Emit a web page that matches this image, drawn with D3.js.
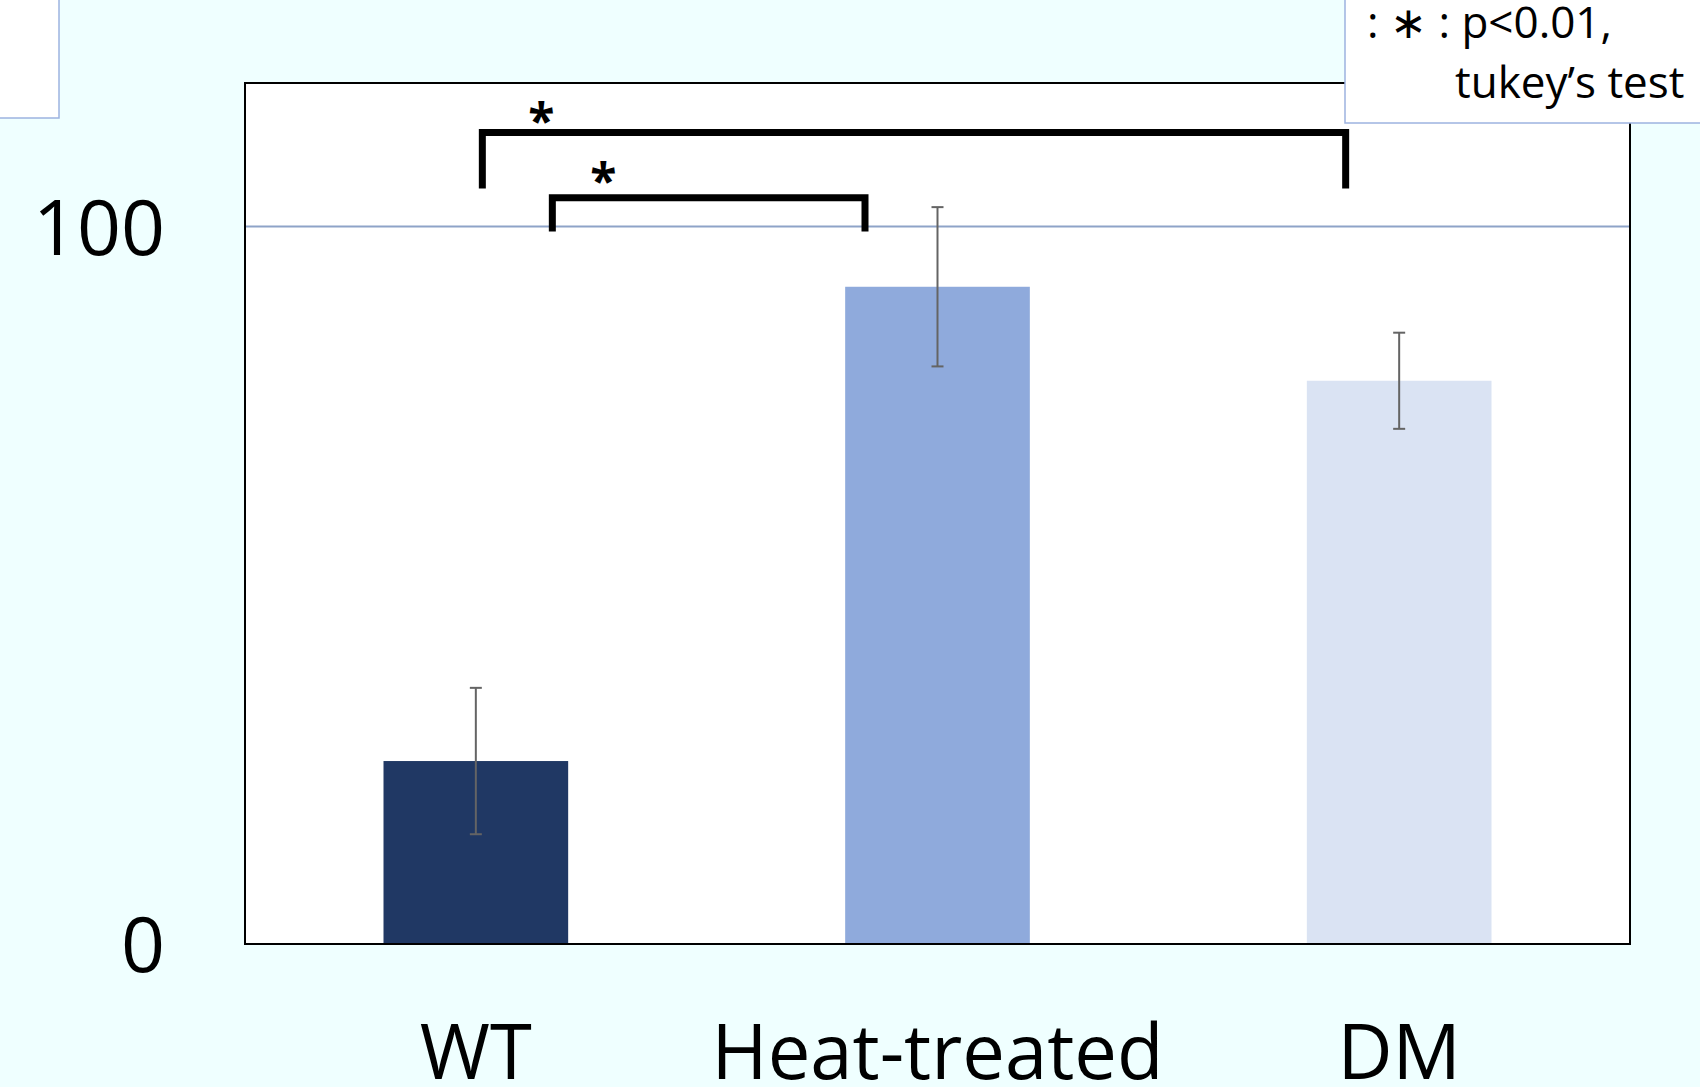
<!DOCTYPE html>
<html>
<head>
<meta charset="utf-8">
<script src="https://cdn.jsdelivr.net/npm/d3@7"></script>
<style>
  html, body { margin: 0; padding: 0; background: #EFFFFF; overflow: hidden; }
  svg { display: block; font-family: "Open Sans", "Noto Sans", sans-serif; }
</style>
</head>
<body>
<svg id="chart" width="1700" height="1087"></svg>
<script>
// ---- data ----
const categories = ["WT", "Heat-treated", "DM"];
const values = [25.5, 91.6, 78.5];
const errors = [10.2, 11.1, 6.7];
const barColors = ["#203864", "#8FAADC", "#DAE3F3"];
const yTicks = [0, 100];
const yMax = 120;
const comparisons = [
  { from: 0, to: 2, label: "*" },
  { from: 0, to: 1, label: "*" }
];
const legendLines = [": \u2217 : p<0.01,", "tukey\u2019s test"];

// ---- layout ----
const svg = d3.select("#chart");
const W = 1700, H = 1087;
const plot = { left: 245, right: 1630, top: 83, bottom: 944 };

svg.append("rect").attr("width", W).attr("height", H).attr("fill", "#EFFFFF");

// top-left decorative box
svg.append("rect").attr("x", -2).attr("y", -2).attr("width", 61).attr("height", 120)
  .attr("fill", "#fff").attr("stroke", "#9DB3E0").attr("stroke-width", 1.5);

const x = d3.scaleBand().domain(categories)
  .range([plot.left, plot.right]).paddingInner(0.6).paddingOuter(0.3);
const y = d3.scaleLinear().domain([0, yMax]).range([plot.bottom, plot.top]);

// plot background
svg.append("rect").attr("x", plot.left).attr("y", plot.top)
  .attr("width", plot.right - plot.left).attr("height", plot.bottom - plot.top)
  .attr("fill", "#fff");

// gridline at 100
svg.append("line").attr("x1", plot.left).attr("x2", plot.right)
  .attr("y1", y(100)).attr("y2", y(100))
  .attr("stroke", "#8EA3C8").attr("stroke-width", 2);

// bars
svg.append("g").selectAll("rect").data(categories).join("rect")
  .attr("x", d => x(d)).attr("width", x.bandwidth())
  .attr("y", (d, i) => y(values[i]))
  .attr("height", (d, i) => y(0) - y(values[i]))
  .attr("fill", (d, i) => barColors[i]);

// error bars
const eg = svg.append("g").attr("stroke", "#646464").attr("stroke-width", 2);
categories.forEach((c, i) => {
  const cx = x(c) + x.bandwidth() / 2;
  const hi = y(values[i] + errors[i]), lo = y(values[i] - errors[i]);
  eg.append("line").attr("x1", cx).attr("x2", cx).attr("y1", hi).attr("y2", lo);
  eg.append("line").attr("x1", cx - 6).attr("x2", cx + 6).attr("y1", hi).attr("y2", hi);
  eg.append("line").attr("x1", cx - 6).attr("x2", cx + 6).attr("y1", lo).attr("y2", lo);
});

// frame
svg.append("rect").attr("x", plot.left).attr("y", plot.top)
  .attr("width", plot.right - plot.left).attr("height", plot.bottom - plot.top)
  .attr("fill", "none").attr("stroke", "#000").attr("stroke-width", 2);

// y axis
const yAxis = svg.append("g").attr("transform", `translate(${plot.left - 80},0)`)
  .call(d3.axisLeft(y).tickValues(yTicks).tickSize(0).tickPadding(0));
yAxis.select(".domain").remove();
yAxis.selectAll("text").attr("font-size", 77).attr("fill", "#000")
  .attr("font-family", "'Open Sans', sans-serif").attr("dy", "0.36em");

// x axis
const xAxis = svg.append("g").attr("transform", `translate(0,${plot.bottom})`)
  .call(d3.axisBottom(x).tickSize(0).tickPadding(0));
xAxis.select(".domain").remove();
xAxis.selectAll("text").attr("font-size", 76).attr("fill", "#000")
  .attr("font-family", "'Open Sans', sans-serif")
  .attr("dy", null).attr("y", 135);

// significance brackets (geometry tied to band centers)
const cxOf = i => x(categories[i]) + x.bandwidth() / 2;
const bracketGeom = [
  { x1: cxOf(0) + 6.5, x2: cxOf(2) - 53.5, top: 113.1, leg: 105.3, sx: 59, sy: 138 },
  { x1: cxOf(0) + 76.5, x2: cxOf(1) - 72.5, top: 104.0, leg: 99.3, sx: 51, sy: 198 }
];
const bg = svg.append("g");
comparisons.forEach((cmp, k) => {
  const g = bracketGeom[k];
  bg.append("path")
    .attr("d", `M${g.x1},${y(g.leg)} L${g.x1},${y(g.top)} L${g.x2},${y(g.top)} L${g.x2},${y(g.leg)}`)
    .attr("fill", "none").attr("stroke", "#000").attr("stroke-width", 7)
    .attr("stroke-linejoin", "miter").attr("stroke-linecap", "butt");
  bg.append("text").attr("x", g.x1 + g.sx).attr("y", g.sy)
    .attr("text-anchor", "middle").attr("font-size", 48).attr("font-weight", "bold")
    .attr("fill", "#000").text(cmp.label);
});

// legend box
svg.append("rect").attr("x", 1345).attr("y", -2).attr("width", 400).attr("height", 125)
  .attr("fill", "#fff").attr("stroke", "#9DB3E0").attr("stroke-width", 1.5);
svg.append("text").attr("x", 1367).attr("y", 38).attr("font-size", 44).attr("fill", "#000")
  .text(legendLines[0]);
svg.append("text").attr("x", 1455).attr("y", 98).attr("font-size", 44).attr("fill", "#000")
  .text(legendLines[1]);
</script>
</body>
</html>
